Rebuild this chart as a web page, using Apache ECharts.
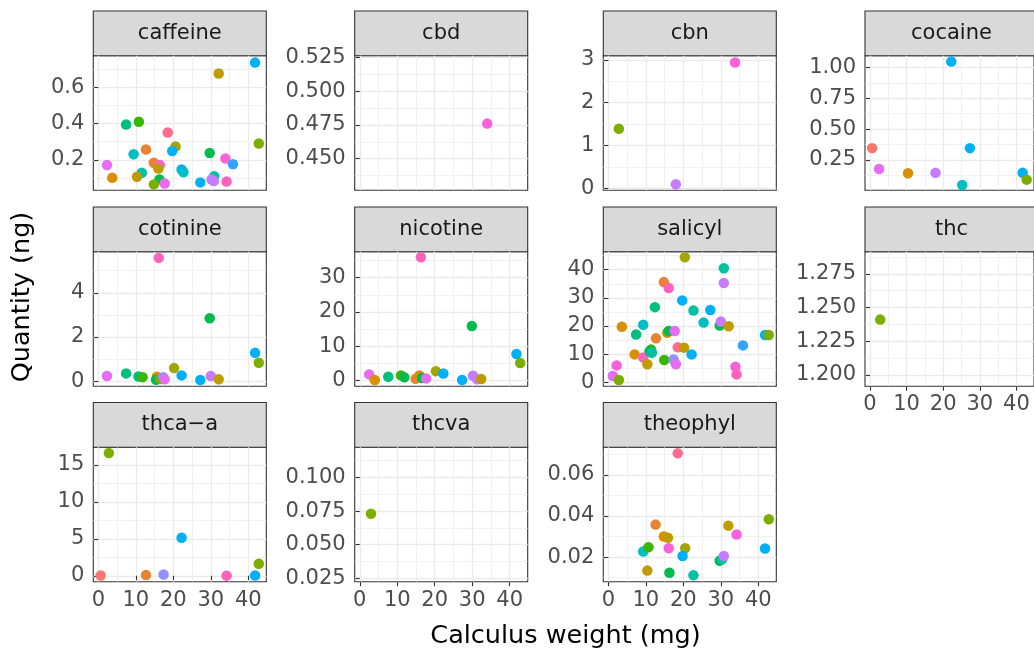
<!DOCTYPE html>
<html lang="en">
<head>
<meta charset="UTF-8">
<title>Quantity vs calculus weight</title>
<script src="https://cdn.jsdelivr.net/npm/echarts@6/dist/echarts.min.js"></script>
<style>
body { margin: 0; background: #fff; }
#chart { width: 1034px; height: 651px; }
</style>
</head>
<body>
<div id="chart"></div>
<script>
// ggplot hue palette, one colour per sample
const sampleColors = ['#F8766D','#EA8331','#D89000','#C09B00','#A3A500','#7CAE00','#39B600','#00BB4E','#00BF7D','#00C1A3',
  '#00BFC4','#00BAE0','#00B0F6','#35A2FF','#9590FF','#C77CFF','#E76BF3','#FA62DB','#FF62BC','#FF6C91'];

const panelNames = ['caffeine', 'cbd', 'cbn', 'cocaine', 'cotinine', 'nicotine', 'salicyl', 'thc', 'thca\u2212a', 'thcva', 'theophyl'];

// [calculus weight (mg), quantity (ng), sample]
const caffeine = [[2.3,0.171,16],[3.7,0.101,2],[7.4,0.394,8],[10.8,0.41,6],[9.4,0.231,10],[12.7,0.257,1],[11.6,0.129,9],
  [10.3,0.107,3],[14.8,0.184,1],[16.4,0.171,17],[16.0,0.152,3],[16.3,0.092,7],[14.8,0.065,5],[17.7,0.07,16],[18.5,0.35,19],
  [20.6,0.273,4],[19.7,0.249,12],[22.2,0.147,12],[22.7,0.132,10],[27.2,0.076,12],[29.7,0.238,7],[30.9,0.11,9],[30.2,0.092,15],
  [30.8,0.083,15],[32.1,0.675,3],[34.2,0.081,18],[33.9,0.207,17],[35.9,0.176,13],[41.8,0.735,12],[42.8,0.29,5]];
const cbd = [[34.0,0.476,17]];
const cbn = [[2.8,1.39,5],[18.0,0.093,15],[33.8,2.94,17]];
const cocaine = [[0.6,0.345,0],[2.5,0.176,16],[10.4,0.141,2],[17.9,0.144,15],[22.2,1.049,12],[25.2,0.045,10],[27.3,0.345,12],
  [41.7,0.144,12],[42.8,0.089,5]];
const cotinine = [[2.3,0.23,16],[7.4,0.35,8],[10.7,0.21,8],[11.8,0.18,6],[15.6,0.2,2],[15.4,0.06,7],[16.5,0.1,5],[17.3,0.18,14],
  [17.7,0.08,16],[16.1,5.58,18],[20.2,0.59,4],[22.2,0.26,12],[27.2,0.05,12],[29.7,2.85,7],[30.0,0.23,15],[32.1,0.08,3],
  [41.8,1.28,12],[42.8,0.83,5]];
const nicotine = [[2.5,1.75,16],[4.0,0.1,2],[7.6,1.07,8],[11.0,1.46,6],[11.9,0.88,7],[14.9,0.5,1],[15.9,1.46,2],[16.3,36.0,18],
  [16.6,0.7,7],[17.7,0.58,16],[20.3,2.7,4],[22.3,2.0,12],[27.3,0.1,12],[29.9,15.9,7],[30.2,1.36,15],[31.3,0.3,15],[32.4,0.4,3],
  [41.8,7.7,12],[42.8,5.1,5]];
const salicyl = [[1.2,2.2,16],[2.2,6.0,17],[2.8,0.8,5],[3.6,19.7,2],[7.0,9.9,2],[7.4,17.0,8],[9.3,20.4,10],[9.3,8.8,18],[10.4,6.4,3],
  [11.4,11.6,6],[11.0,11.0,7],[11.6,10.5,9],[12.4,26.7,8],[12.7,15.6,1],[14.8,35.6,1],[16.1,33.5,18],[15.7,17.6,3],[16.1,18.2,7],
  [14.9,7.9,6],[17.7,18.2,16],[17.4,8.1,14],[18.0,6.4,16],[18.5,12.4,19],[20.2,12.3,3],[20.4,44.4,4],[19.7,29.1,12],[22.2,9.9,12],
  [22.7,25.5,9],[25.4,21.2,10],[27.2,25.7,12],[29.7,20.2,7],[30.0,21.6,15],[30.8,40.5,9],[30.8,35.3,15],[32.1,19.9,3],[33.9,5.5,17],
  [34.2,2.8,18],[35.9,13.1,13],[41.8,16.8,12],[42.8,16.8,5]];
const thc = [[2.8,1.241,5]];
const thcaA = [[0.6,0.05,0],[2.8,16.6,5],[12.7,0.09,1],[17.4,0.18,14],[22.2,5.14,12],[34.2,0.02,18],[41.8,0.05,12],[42.8,1.62,5]];
const thcva = [[3.0,0.073,5]];
const theophyl = [[9.3,0.0227,10],[10.7,0.0248,6],[10.4,0.0134,3],[12.6,0.0358,1],[14.8,0.030,2],[15.9,0.0294,3],[16.1,0.0243,17],
  [16.3,0.0124,7],[18.5,0.0705,19],[20.5,0.0243,4],[19.8,0.0205,12],[22.7,0.0111,9],[29.7,0.0182,7],[30.4,0.019,9],[30.8,0.0205,15],
  [32.0,0.0353,3],[34.2,0.031,17],[41.8,0.0242,12],[42.8,0.0384,5]];

const panelData = [caffeine, cbd, cbn, cocaine, cotinine, nicotine, salicyl, thc, thcaA, thcva, theophyl];

// shared x scale
const xRange = [-1.35, 44.8];
const xBreaks = [0, 10, 20, 30, 40];
const xMinor = [5, 15, 25, 35];

// free y scales
const yRanges = [[0.033,0.773],[0.4265,0.5265],[-0.045,3.1],[0.003,1.097],[-0.23,5.86],[-1.7,37.6],[-1.4,46.4],
  [1.1915,1.2915],[-0.8,17.4],[0.0225,0.1225],[0.008,0.0735]];
const yBreaks = [[0.2,0.4,0.6],[0.45,0.475,0.5,0.525],[0,1,2,3],[0.25,0.5,0.75,1],[0,2,4],[0,10,20,30],[0,10,20,30,40],
  [1.2,1.225,1.25,1.275],[0,5,10,15],[0.025,0.05,0.075,0.1],[0.02,0.04,0.06]];
const yMinor = [[0.1,0.3,0.5,0.7],[0.4375,0.4625,0.4875,0.5125],[0.5,1.5,2.5],[0.125,0.375,0.625,0.875],[1,3,5],[5,15,25,35],
  [5,15,25,35,45],[1.2125,1.2375,1.2625,1.2875],[2.5,7.5,12.5],[0.0375,0.0625,0.0875,0.1125],[0.01,0.03,0.05,0.07]];
const yDigits = [1, 3, 0, 2, 0, 0, 0, 3, 0, 3, 2];

const font = 'DejaVu Sans';
const colLeft = [93.3, 354.7, 603.3, 865];
const stripTop = [11, 207, 402.5];
const panelW = 173, stripH = 44.7, plotH = 134.5;

const grids = [], xAxes = [], yAxes = [], series = [], graphics = [];
const major = { color: '#EBEBEB', width: 1.4 };
const minor = { color: '#EBEBEB', width: 0.7 };
const tickStyle = { color: '#333333', width: 1.1 };

panelData.forEach(function(data, i) {
  const row = Math.floor(i / 4), col = i % 4;
  const left = colLeft[col], top = stripTop[row] + stripH;
  const showX = i >= 7;
  grids.push({ left: left, top: top, width: panelW, height: plotH, show: true,
    backgroundColor: '#fff', borderColor: '#333333', borderWidth: 1.1 });
  xAxes.push({ gridIndex: i, type: 'value', min: xRange[0], max: xRange[1], position: 'bottom',
    axisLine: { show: false },
    axisTick: { show: showX, length: 4.5, lineStyle: tickStyle, customValues: xBreaks },
    axisLabel: { show: showX, customValues: xBreaks, color: '#4D4D4D', fontSize: 21, fontFamily: font, margin: 8 },
    splitLine: { show: true, lineStyle: major } });
  xAxes.push({ gridIndex: i, type: 'value', min: xRange[0], max: xRange[1], position: 'top',
    axisLine: { show: false },
    axisTick: { show: false, customValues: xMinor },
    axisLabel: { show: false, customValues: xMinor },
    splitLine: { show: true, lineStyle: minor } });
  const d = yDigits[i];
  yAxes.push({ gridIndex: i, type: 'value', min: yRanges[i][0], max: yRanges[i][1], position: 'left',
    axisLine: { show: false },
    axisTick: { show: true, length: 4.5, lineStyle: tickStyle, customValues: yBreaks[i] },
    axisLabel: { show: true, customValues: yBreaks[i], color: '#4D4D4D', fontSize: 21, fontFamily: font, margin: 9,
      formatter: function(v) { return v.toFixed(d); } },
    splitLine: { show: true, lineStyle: major } });
  yAxes.push({ gridIndex: i, type: 'value', min: yRanges[i][0], max: yRanges[i][1], position: 'right',
    axisLine: { show: false },
    axisTick: { show: false, customValues: yMinor[i] },
    axisLabel: { show: false, customValues: yMinor[i] },
    splitLine: { show: true, lineStyle: minor } });
  series.push({ type: 'scatter', xAxisIndex: 2 * i, yAxisIndex: 2 * i, data: data, symbolSize: 10.5,
    itemStyle: { opacity: 1, color: function(p) { return sampleColors[p.data[2]]; } } });
  graphics.push({ type: 'rect', shape: { x: left, y: stripTop[row], width: panelW, height: stripH },
    style: { fill: '#D9D9D9', stroke: '#333333', lineWidth: 1.1 } });
  graphics.push({ type: 'text', x: left + panelW / 2, y: stripTop[row] + stripH / 2,
    style: { text: panelNames[i], fill: '#1A1A1A', fontSize: 21, fontFamily: font, align: 'center', verticalAlign: 'middle' } });
});

graphics.push({ type: 'text', x: 565.5, y: 636,
  style: { text: 'Calculus weight (mg)', fill: '#000', fontSize: 25.5, fontFamily: font, align: 'center', verticalAlign: 'middle' } });
graphics.push({ type: 'text', x: 22, y: 297, rotation: Math.PI / 2,
  style: { text: 'Quantity (ng)', fill: '#000', fontSize: 25.5, fontFamily: font, align: 'center', verticalAlign: 'middle' } });

const chart = echarts.init(document.getElementById('chart'));
chart.setOption({
  animation: false,
  backgroundColor: '#fff',
  grid: grids,
  xAxis: xAxes,
  yAxis: yAxes,
  series: series,
  graphic: graphics
});
</script>
</body>
</html>
